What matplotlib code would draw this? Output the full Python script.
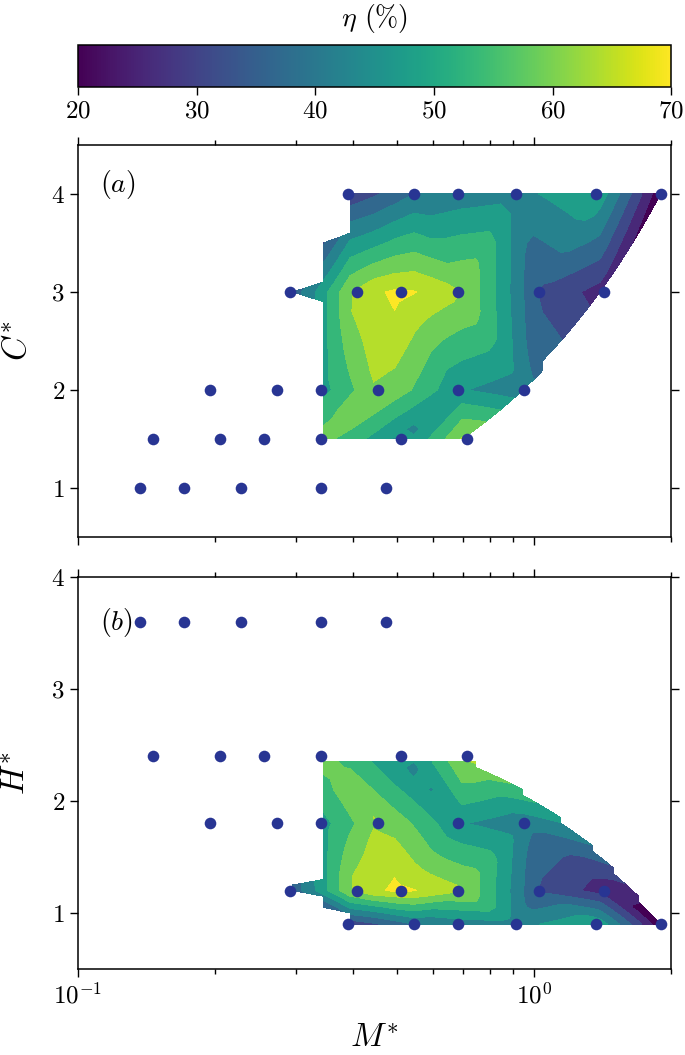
import numpy as np
import matplotlib
matplotlib.use('Agg')
import matplotlib.pyplot as plt
import matplotlib.tri as mtri
from matplotlib import colors, cm

plt.rcParams['font.family'] = 'serif'
plt.rcParams['font.serif'] = ['cmr10']
plt.rcParams['mathtext.fontset'] = 'cm'
plt.rcParams['axes.formatter.use_mathtext'] = True
plt.rcParams['font.size'] = 18

# experiments, one entry per run (nominal values)
M_exp = [0.137, 0.171, 0.228, 0.341, 0.474,
         0.146, 0.205, 0.256, 0.341, 0.512, 0.712,
         0.195, 0.273, 0.341, 0.455, 0.681, 0.950,
         0.292, 0.410, 0.512, 0.681, 1.026, 1.421,
         0.390, 0.546, 0.681, 0.911, 1.366, 1.901]
C_exp = [1.0] * 5 + [1.5] * 6 + [2.0] * 6 + [3.0] * 6 + [4.0] * 6
H_exp = [3.6] * 5 + [2.4] * 6 + [1.8] * 6 + [1.2] * 6 + [0.9] * 6
# efficiency (%), nan = not measured
eta_exp = [np.nan, np.nan, np.nan, np.nan, np.nan,
           np.nan, np.nan, np.nan, 57.0, 43.0, 62.0,
           np.nan, np.nan, 48.0, 60.5, 45.5, 41.5,
           36.0, 63.0, 66.3, 61.0, 34.0, 27.5,
           31.0, 40.0, 42.0, 43.5, 49.5, 20.5]

levels = np.arange(20, 71, 5)
band_norm = colors.Normalize(vmin=22.5, vmax=67.5)
pt_color = '#283593'

M_exp = np.array(M_exp)
C_exp = np.array(C_exp)
H_exp = np.array(H_exp)
eta_exp = np.array(eta_exp)
ok = ~np.isnan(eta_exp)

# regular grids for the interpolated map
M_grid = np.arange(0.245, 1.9, 0.05)
C_grid = np.linspace(1.5, 4.0, 26)
H_grid = np.arange(0.9, 2.4, 0.05)


def eta_map(ax, x, y, z, xg, yg):
    tri = mtri.Triangulation(x, y)
    interp = mtri.LinearTriInterpolator(tri, z)
    X, Y = np.meshgrid(xg, yg)
    Z = interp(X, Y)
    return ax.contourf(X, Y, Z, levels=levels, cmap='viridis', norm=band_norm, zorder=1)


def style(ax):
    ax.set_xscale('log')
    ax.set_xlim(0.1, 2.0)
    ax.tick_params(which='both', direction='out', top=True, right=True, width=1.0)
    ax.tick_params(which='major', length=6)
    ax.tick_params(which='minor', length=3.5)
    for s in ax.spines.values():
        s.set_linewidth(1.1)


fig = plt.figure(figsize=(6.85, 10.55), dpi=100)
cax = fig.add_axes([0.1139, 0.9175, 0.866, 0.0398])
ax_a = fig.add_axes([0.1139, 0.4910, 0.866, 0.3716])
ax_b = fig.add_axes([0.1139, 0.0815, 0.866, 0.3716])

# (a) C* vs M*
eta_map(ax_a, M_exp[ok], C_exp[ok], eta_exp[ok], M_grid, C_grid)
ax_a.scatter(M_exp, C_exp, s=70, color=pt_color, zorder=3, linewidths=0)
style(ax_a)
ax_a.set_ylim(0.5, 4.5)
ax_a.set_yticks([1, 2, 3, 4])
ax_a.tick_params(labelbottom=False)
ax_a.set_ylabel('$C^{*}$', fontsize=24, labelpad=14)
ax_a.text(0.037, 0.898, '$(a)$', transform=ax_a.transAxes, fontsize=20, va='center')

# (b) H* vs M*
eta_map(ax_b, M_exp[ok], H_exp[ok], eta_exp[ok], M_grid, H_grid)
ax_b.scatter(M_exp, H_exp, s=70, color=pt_color, zorder=3, linewidths=0)
style(ax_b)
ax_b.set_ylim(0.5, 4.0)
ax_b.set_yticks([1, 2, 3, 4])
ax_b.set_ylabel('$H^{*}$', fontsize=24, labelpad=14)
ax_b.set_xlabel('$M^{*}$', fontsize=24, labelpad=12)
ax_b.text(0.037, 0.885, '$(b)$', transform=ax_b.transAxes, fontsize=20, va='center')

# colour bar
sm = cm.ScalarMappable(norm=colors.Normalize(20, 70), cmap='viridis')
cb = fig.colorbar(sm, cax=cax, orientation='horizontal', ticks=[20, 30, 40, 50, 60, 70])
cb.outline.set_linewidth(1.1)
cax.tick_params(direction='out', length=6, width=1.0)
cax.set_title('$\\eta$ (%)', fontsize=20, pad=14)

fig.savefig('out.png', dpi=100)
